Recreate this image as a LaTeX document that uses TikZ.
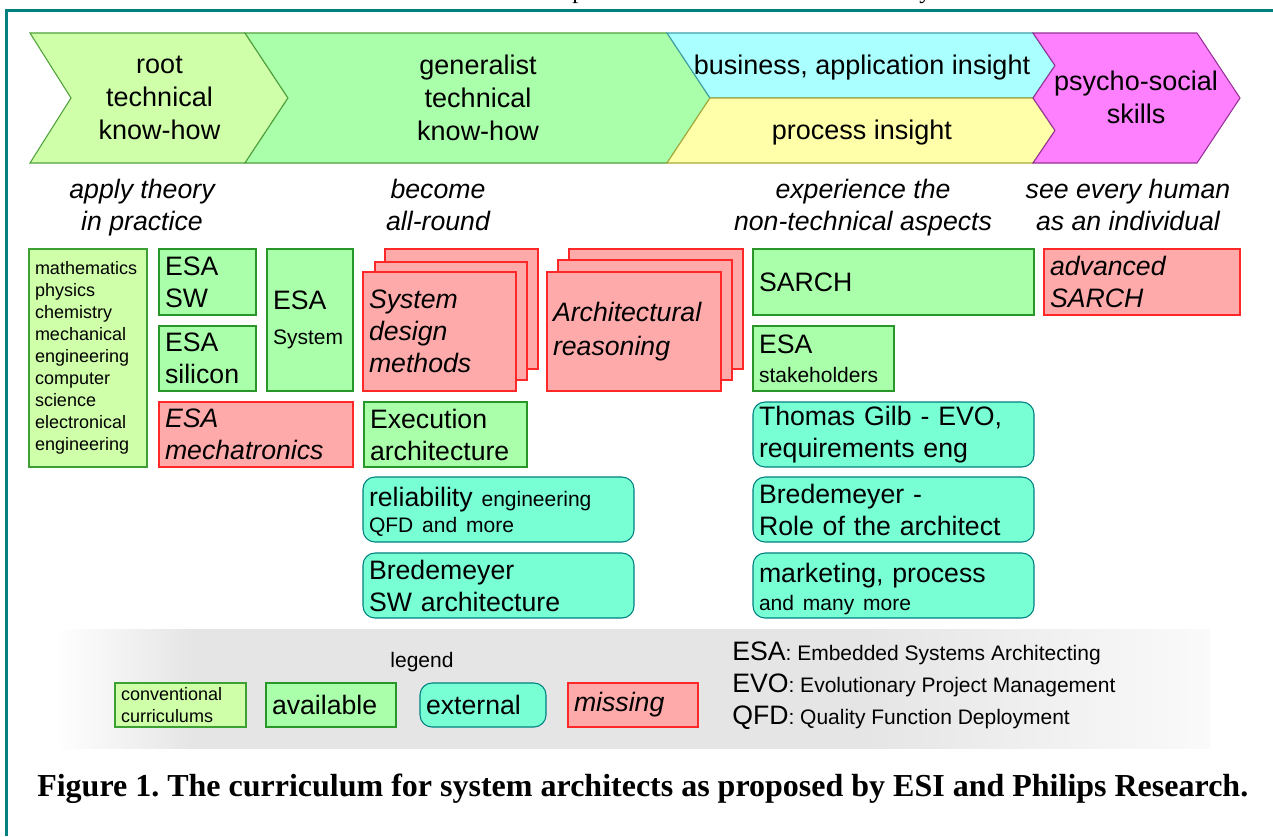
\documentclass[tikz,border=0pt]{standalone}
\usepackage{fontspec}
\setmainfont{Liberation Sans}
\newfontfamily\capfont{Liberation Serif}
\frenchspacing
\definecolor{framecol}{RGB}{0,128,128}
\definecolor{convfill}{RGB}{208,255,170}
\definecolor{convdraw}{RGB}{60,160,50}
\definecolor{availfill}{RGB}{170,255,170}
\definecolor{availdraw}{RGB}{40,150,40}
\definecolor{missfill}{RGB}{255,170,170}
\definecolor{missdraw}{RGB}{255,40,40}
\definecolor{extfill}{RGB}{120,255,212}
\definecolor{extdraw}{RGB}{0,128,128}
\definecolor{cyanfill}{RGB}{170,255,255}
\definecolor{cyandraw}{RGB}{60,160,170}
\definecolor{yelfill}{RGB}{255,255,170}
\definecolor{yeldraw}{RGB}{170,170,60}
\definecolor{magfill}{RGB}{255,128,255}
\definecolor{magdraw}{RGB}{150,50,150}
\definecolor{bandgreen}{RGB}{80,160,60}
\definecolor{lgray}{RGB}{229,229,229}
\definecolor{lgrayend}{RGB}{250,250,250}
\pgfdeclarehorizontalshading{legendshade}{100bp}{color(0bp)=(white); color(25bp)=(white); color(31bp)=(lgray); color(60bp)=(lgray); color(75bp)=(lgrayend); color(100bp)=(lgrayend)}
\newcommand\szL{\fontsize{20}{24}\selectfont}
\newcommand\szS{\fontsize{15.75}{19}\selectfont}
\newcommand\szC{\fontsize{13.5}{16.5}\selectfont}
\newcommand\szT{\fontsize{20.25}{24.75}\selectfont}
\tikzset{
  pbox/.code n args={4}{%
    \pgfmathsetmacro\pbw{(#3-#1)*0.75}%
    \pgfmathsetmacro\pbh{(#4-#2)*0.75}%
    \pgfmathsetmacro\pbt{(#3-#1)*0.75-9}%
    \pgfmathsetmacro\pbx{(#1+#3)/2}%
    \pgfmathsetmacro\pby{(#2+#4)/2}%
    \edef\pbtmp{\noexpand\pgfkeysalso{minimum width=\pbw pt, minimum height=\pbh pt, text width=\pbt pt, at={(\pbx,\pby)}}}%
    \pbtmp},
  basebox/.style={inner xsep=4.5pt, inner ysep=0pt, font=\szL, text=black, execute at begin node={\raggedright}},
  conv/.style={basebox, fill=convfill, draw=convdraw, line width=0.9pt},
  avail/.style={basebox, fill=availfill, draw=availdraw, line width=0.9pt},
  miss/.style={basebox, fill=missfill, draw=missdraw, line width=0.9pt, font=\szL\itshape},
  ext/.style={basebox, fill=extfill, draw=extdraw, line width=0.8pt, rounded corners=9pt},
  sheet/.style={fill=missfill, draw=missdraw, line width=0.9pt, inner sep=0pt},
  bandtxt/.style={align=center, font=\szT, inner sep=0pt},
  subtxt/.style={align=center, font=\szL\itshape, inner sep=0pt},
  band/.style={line width=0.8pt, line join=miter}
}
\begin{document}
\begin{tikzpicture}[x=0.75pt,y=-0.75pt]
\useasboundingbox (0,0) rectangle (1273,836);
\fill[white] (0,0) rectangle (1273,836);
% cut-off text of the line above
\node[font=\capfont\fontsize{18}{18}\selectfont, anchor=base west, inner sep=0pt] (fragp) at (572,-1.5) {p};
\node[font=\capfont\fontsize{18}{18}\selectfont, anchor=base west, inner sep=0pt] (fragy) at (919,-1.5) {y};
% frame
\draw[framecol, line width=2.25pt] (5,10.5) -- (1273,10.5);
\draw[framecol, line width=2.25pt] (6.5,9) -- (6.5,836);
% legend background
\shade[shading=legendshade] (55,629) rectangle (1210,748);
% top band
\filldraw[band, fill=convfill, draw=bandgreen] (30,33) -- (245,33) -- (288,98) -- (245,163) -- (30,163) -- (71,98) -- cycle;
\filldraw[band, fill=availfill, draw=bandgreen] (245,33) -- (667,33) -- (710,98) -- (667,163) -- (245,163) -- (288,98) -- cycle;
\filldraw[band, fill=cyanfill, draw=cyandraw] (667,33) -- (1033,33) -- (1055,65.5) -- (1033,98) -- (710,98) -- cycle;
\filldraw[band, fill=yelfill, draw=yeldraw] (710,98) -- (1033,98) -- (1055,130.5) -- (1033,163) -- (667,163) -- cycle;
\filldraw[band, fill=magfill, draw=magdraw] (1033,33) -- (1197,33) -- (1240,98) -- (1197,163) -- (1033,163) -- (1055,130.5) -- (1033,98) -- (1055,65.5) -- cycle;
\node[bandtxt] (b1) at (159.5,98) {root\\technical\\know-how};
\node[bandtxt] (b2) at (478,98) {generalist\\technical\\know-how};
\node[bandtxt] (b3) at (862,67.5) {business, application insight};
\node[bandtxt] (b4) at (862,133) {process insight};
\node[bandtxt] (b5) at (1136,97) {psycho-social\\skills};
% subtitles
\node[subtxt] (s1) at (142,208) {apply theory\\in practice};
\node[subtxt] (s2) at (438,205) {become\\all-round};
\node[subtxt] (s3) at (863,208) {experience the\\non-technical aspects};
\node[subtxt] (s4) at (1128,205) {see every human\\as an individual};
% boxes column 1
\node[conv, pbox={29}{249}{147}{467}, font=\szC] (conv) {mathematics\\physics\\chemistry\\mechanical\\engineering\\computer\\science\\electronical\\engineering};
\node[avail, pbox={159}{249}{256}{315}] (esasw) {ESA\\SW};
\node[avail, pbox={159}{326}{256}{391}] (esasi) {ESA\\silicon};
\node[avail, pbox={267}{249}{353}{391}] (esasys) {ESA\\[2pt]{\szS System}};
\node[miss, pbox={159}{402}{353}{467}] (esamech) {ESA\\mechatronics};
% stacks
\node[sheet, pbox={385}{249}{538}{369}] (sdmc) {};
\node[sheet, pbox={375}{262}{527}{380}] (sdmb) {};
\node[miss, pbox={363}{272}{516}{391}] (sdm) {System\\design\\methods};
\node[sheet, pbox={569}{249}{743}{369}] (arc) {};
\node[sheet, pbox={558}{260}{732}{380}] (arb) {};
\node[miss, pbox={547}{272}{721}{391}] (ar) {Architectural\\[1.5pt]reasoning};
\node[avail, pbox={364}{402}{527}{467}] (exec) {Execution\\architecture};
\node[ext, pbox={363}{477}{634}{542}] (rel) {\rule{0pt}{17.6pt}reliability {\szS engineering}\\[-4.5pt]{\szS QFD and more}};
\node[ext, pbox={363}{553}{634}{618}] (bsw) {Bredemeyer\\SW architecture};
% right column
\node[avail, pbox={753}{249}{1034}{315}] (sarch) {SARCH};
\node[miss, pbox={1044}{249}{1240}{315}] (asarch) {advanced\\SARCH};
\node[avail, pbox={753}{326}{894}{391}] (esast) {ESA\\[-2pt]{\szS stakeholders}};
\node[ext, pbox={753}{402}{1034}{467}] (gilb) {Thomas Gilb - EVO,\\requirements eng};
\node[ext, pbox={753}{477}{1034}{542}] (brole) {Bredemeyer -\\Role of the architect};
\node[ext, pbox={753}{553}{1034}{618}] (mkt) {\rule{0pt}{19.1pt}marketing, process\\[-3pt]{\szS and many more}};
% legend
\node[font=\szS, inner sep=0pt] (leg) at (422,662) {legend};
\node[conv, pbox={115}{683}{246}{727}, font=\szC] (lconv) {conventional\\curriculums};
\node[avail, pbox={266}{683}{396}{727}] (lavail) {available};
\node[ext, pbox={420}{683}{546}{727}] (lext) {external};
\node[miss, pbox={568}{683}{698}{727}] (lmiss) {missing};
\node[anchor=west, align=left, font=\szL, inner sep=0pt] (defs) at (732,686) {ESA{\szS: Embedded Systems Architecting}\\EVO{\szS: Evolutionary Project Management}\\QFD{\szS: Quality Function Deployment}};
% caption
\node[anchor=base west, inner sep=0pt, font=\capfont\bfseries\fontsize{24}{28}\selectfont] (cap) at (37,796) {Figure 1. The curriculum for system architects as proposed by ESI and Philips Research.};
\end{tikzpicture}
\end{document}
